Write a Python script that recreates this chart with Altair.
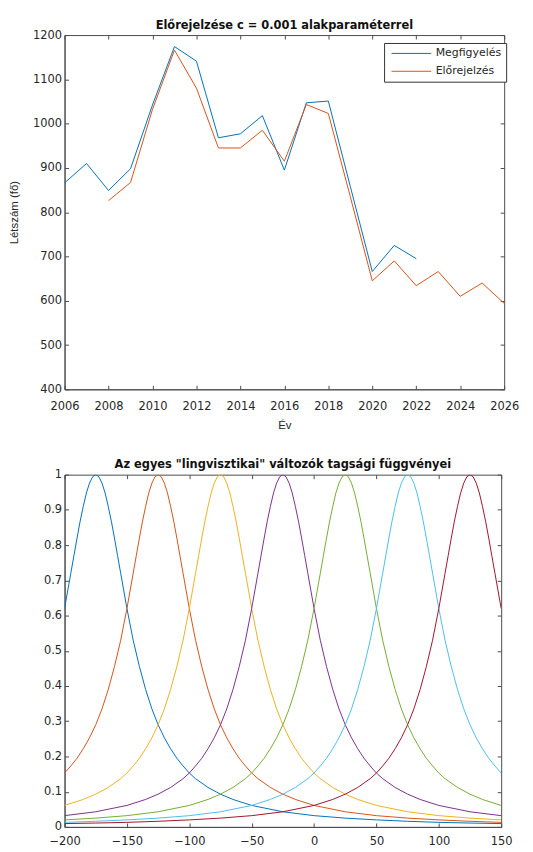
import altair as alt
import pandas as pd

# ---- top panel data ----
years_obs = list(range(2006, 2023))
observed = [866, 910, 849, 898, 1042, 1174, 1141, 968, 977, 1018, 895, 1047, 1051, 858, 666, 725, 695]
years_fc = list(range(2008, 2027))
forecast = [826, 867, 1032, 1166, 1080, 945, 945, 985, 915, 1043, 1023, 835, 645, 690, 634, 666, 610, 640, 594]
series_names = ["Megfigyelés", "Előrejelzés"]
series_colors = ["#0072BD", "#D95319"]
year_ticks = list(range(2006, 2027, 2))
count_ticks = list(range(400, 1201, 100))

# ---- bottom panel data ----
centers = [-175, -125, -75, -25, 25, 75, 125]
curve_colors = ["#0072BD", "#D95319", "#EDB120", "#7E2F8E", "#77AC30", "#4DBEEE", "#A2142F"]
profile_offsets = [0, 2.5, 5, 7.5, 10, 12.5, 15, 17.5, 20, 22.5, 25, 30, 35, 40, 45, 50, 55, 60,
                   65, 70, 75, 80, 90, 100, 110, 125, 150, 175, 200, 225, 250, 275, 300, 325]
profile_values = [1.0, 0.994, 0.976, 0.948, 0.91, 0.868, 0.82, 0.77, 0.72, 0.67, 0.62, 0.53, 0.455,
                  0.39, 0.335, 0.29, 0.253, 0.222, 0.195, 0.173, 0.153, 0.137, 0.112, 0.093, 0.078,
                  0.061, 0.043, 0.032, 0.025, 0.02, 0.016, 0.013, 0.011, 0.0095]
x_ticks = list(range(-200, 151, 50))
mf_ticks = [round(i / 10, 1) for i in range(0, 11)]

FONT = "DejaVu Sans"
TXT = "#262626"
AX = "#4d4d4d"

# build tables
top_rows = []
for y, v in zip(years_obs, observed):
    top_rows.append({"year": y, "value": v, "series": series_names[0]})
for y, v in zip(years_fc, forecast):
    top_rows.append({"year": y, "value": v, "series": series_names[1]})
top_df = pd.DataFrame(top_rows)

bot_rows = []
for i, c in enumerate(centers):
    pts = {}
    for d, v in zip(profile_offsets, profile_values):
        for x in (c - d, c + d):
            if -200 <= x <= 150:
                pts[x] = v
    for x in sorted(pts):
        bot_rows.append({"x": x, "mu": pts[x], "curve": f"f{i+1}"})
bot_df = pd.DataFrame(bot_rows)

inward = {"expr": "-4"}


def main_axis(values, title, fmt=None, **kw):
    args = dict(values=values, title=title, tickSize=inward, labelPadding=7,
                domain=True, domainColor=AX, tickColor=AX, grid=False,
                labelFont=FONT, labelFontSize=11.5, labelColor=TXT,
                titleFont="Liberation Sans", titleFontSize=11.5, titleFontWeight="normal",
                titleColor=TXT, labelFlush=False)
    if fmt:
        args["format"] = fmt
    args.update(kw)
    return alt.Axis(**args)


def side_axis(values, orient):
    return alt.Axis(values=values, orient=orient, labels=False, title=None, tickSize=inward,
                    domain=False, tickColor=AX, grid=False, minExtent=0, maxExtent=0)


x_top = alt.Scale(domain=[2006, 2026], nice=False, zero=False)
y_top = alt.Scale(domain=[400, 1200], nice=False, zero=False)

lines_top = alt.Chart(top_df).mark_line(strokeWidth=1, clip=True).encode(
    x=alt.X("year:Q", scale=x_top,
            axis=main_axis(year_ticks, "Év", "d", labelPadding=15, titlePadding=8)),
    y=alt.Y("value:Q", scale=y_top, axis=main_axis(count_ticks, "Létszám (fő)", "d", titlePadding=13)),
    color=alt.Color("series:N", scale=alt.Scale(domain=series_names, range=series_colors),
                    sort=series_names,
                    legend=alt.Legend(title=None, orient="none", legendX=322, legendY=8,
                                      strokeColor="#333333", fillColor="white", padding=5,
                                      symbolType="M-4,0H4", symbolSize=100, symbolStrokeWidth=1,
                                      symbolOffset=17, labelOffset=19, rowPadding=6,
                                      labelFont=FONT, labelFontSize=11, labelColor=TXT,
                                      cornerRadius=0)),
    detail="series:N",
)
frame_top = alt.Chart(top_df).mark_line(opacity=0).encode(
    x=alt.X("year:Q", scale=x_top, axis=side_axis(year_ticks, "top")),
    y=alt.Y("value:Q", scale=y_top, axis=side_axis(count_ticks, "right")),
)
top = alt.layer(lines_top, frame_top).resolve_axis(x="independent", y="independent").properties(
    width=443, height=357,
    title=alt.TitleParams("Előrejelzése c = 0.001 alakparaméterrel", font=FONT, fontSize=11.5,
                          fontWeight="bold", color="#111111", offset=-2),
)

x_bot = alt.Scale(domain=[-200, 150], nice=False, zero=False)
y_bot = alt.Scale(domain=[0, 1], nice=False, zero=False)
curves = alt.Chart(bot_df).mark_line(strokeWidth=1, clip=True).encode(
    x=alt.X("x:Q", scale=x_bot, axis=main_axis(x_ticks, None, "d", labelPadding=13)),
    y=alt.Y("mu:Q", scale=y_bot, axis=main_axis(mf_ticks, None, "~g")),
    color=alt.Color("curve:N", scale=alt.Scale(domain=[f"f{i+1}" for i in range(len(centers))],
                                               range=curve_colors), legend=None),
    order="x:Q",
)
frame_bot = alt.Chart(bot_df).mark_line(opacity=0).encode(
    x=alt.X("x:Q", scale=x_bot, axis=side_axis(x_ticks, "top")),
    y=alt.Y("mu:Q", scale=y_bot, axis=side_axis(mf_ticks, "right")),
)
bottom = alt.layer(curves, frame_bot).resolve_axis(x="independent", y="independent").properties(
    width=440, height=355,
    title=alt.TitleParams('Az egyes "lingvisztikai" változók tagsági függvényei', font=FONT,
                          fontSize=11.5, fontWeight="bold", color="#111111", offset=-2),
)

chart = alt.vconcat(top, bottom, spacing=27).resolve_scale(color="independent").configure_view(
    stroke=AX, strokeWidth=1
).properties(padding={"left": 0, "top": 8, "right": 5, "bottom": 0}, background="white")

chart.save("out.html", embed_options={"renderer": "svg", "actions": False})
